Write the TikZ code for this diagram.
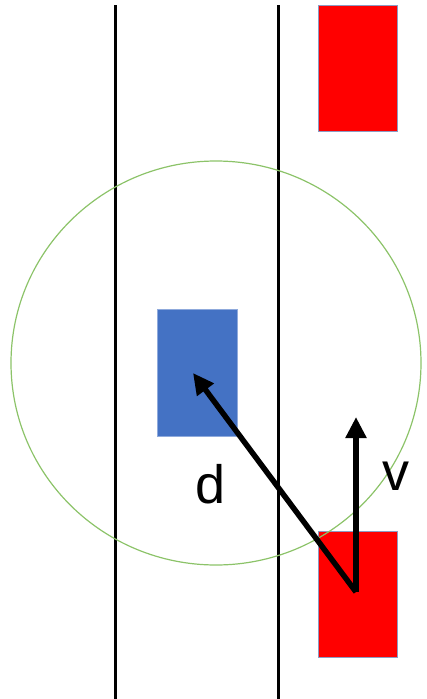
\documentclass[tikz,border=0pt]{standalone}
\usepackage{fontspec}
\setmainfont{Liberation Sans}
\usetikzlibrary{arrows.meta}
\definecolor{carred}{RGB}{255,0,0}
\definecolor{caredge}{RGB}{140,155,195}
\definecolor{egoblue}{RGB}{68,114,196}
\definecolor{rangegreen}{RGB}{140,195,105}
\tikzset{
  lane/.style={line width=3pt, black},
  redcar/.style={fill=carred, draw=caredge, line width=1pt},
  bluecar/.style={fill=egoblue, draw=egoblue!60!white, line width=0.6pt},
  vec/.style={line width=5.5pt, black, -{Triangle[length=21pt,width=20pt]}},
  lbl/.style={font=\fontsize{54}{54}\selectfont, inner sep=0pt, anchor=base}
}
\begin{document}
\begin{tikzpicture}[x=1pt,y=-1pt]
\useasboundingbox (0,0) rectangle (426,699);
% lane lines
\coordinate (l1t) at (115.5,5);
\coordinate (l1b) at (115.5,699);
\coordinate (l2t) at (278,5);
\coordinate (l2b) at (278,699);
\draw[lane] (l1t) -- (l1b);
\draw[lane] (l2t) -- (l2b);
% cars
\draw[redcar] (318.5,5.5) rectangle (397.5,131) node[pos=0.5] (cartop) {};
\draw[redcar] (318.5,531.5) rectangle (397,657) node[pos=0.5] (carbot) {};
\draw[bluecar] (157.5,309.5) rectangle (237.5,436) node[pos=0.5] (ego) {};
% range circle
\draw[rangegreen, line width=1.2pt] (216,363) ellipse [x radius=205, y radius=202];
% vectors
\coordinate (o) at (356,592);
\coordinate (dtip) at (193,373);
\coordinate (vtip) at (356,417);
\draw[vec] (o) -- (dtip);
\draw[vec] (o) -- (vtip);
% labels
\node[lbl] (dl) at (210.5,503) {d};
\node[lbl] (vl) at (396,490) {v};
\end{tikzpicture}
\end{document}
